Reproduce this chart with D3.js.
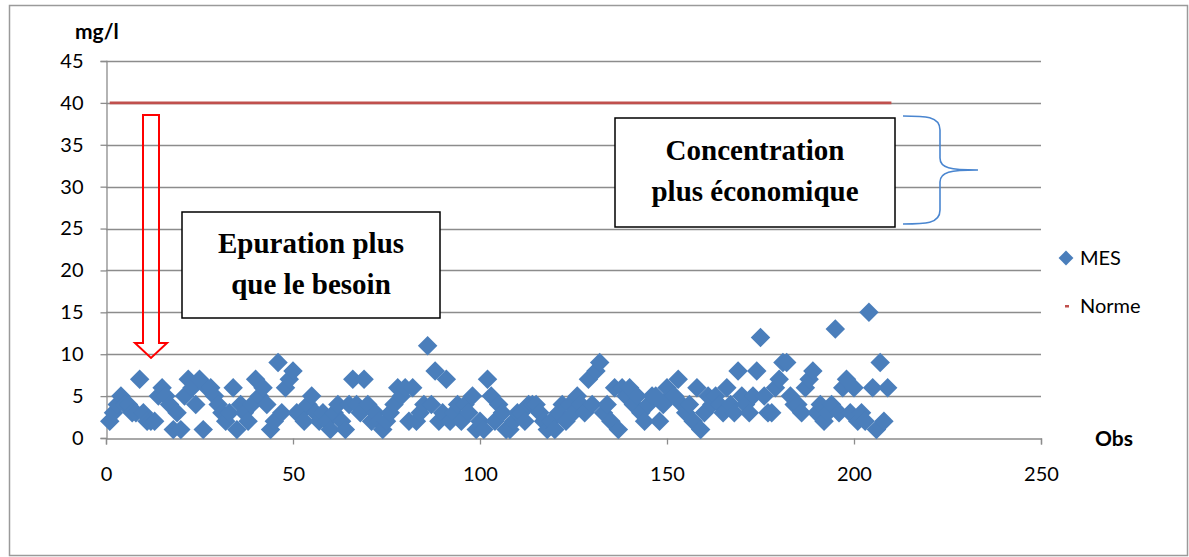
<html>
<head>
<script src="https://d3js.org/d3.v7.min.js"></script>
</head>
<body style="margin:0;background:#fff">
<svg id="chart" width="1189" height="557"></svg>
<style>
  text { font-family: Lato, "Open Sans", sans-serif; }
</style>
<script>
const mes = [
  2,3,4,5,4,4,3,3,7,3, 2,2,2,5,6,5,4,1,3,1,
  5,7,6,4,7,1,6,6,5,4, 3,2,3,6,1,4,3,2,4,7,
  5,6,4,1,2,9,3,6,7,8, 3,3,2,4,5,3,2,3,2,1,
  3,4,2,1,4,7,4,3,7,4, 2,3,2,1,2,3,4,6,5,6,
  2,6,2,3,4,11,4,8,2,3, 7,2,3,4,2,4,3,5,1,2,
  1,7,5,2,4,3,1,1,2,3, 3,2,4,4,4,3,2,1,2,1,
  3,4,2,4,3,5,4,3,7,4, 8,9,3,4,2,6,1,6,5,6,
  4,5,3,2,4,5,5,2,4,6, 5,5,7,4,3,4,2,6,1,3,
  5,4,5,4,3,6,4,3,8,5, 4,3,5,8,12,5,3,3,6,7,
  9,9,5,4,4,3,6,7,8,3, 4,2,3,4,13,3,6,7,3,6,
  2,3,2,15,6,1,9,2,6
];
const normeValue = 40;
const normeRange = [1, 210];
const xTicks = [0, 50, 100, 150, 200, 250];
const yTicks = [0, 5, 10, 15, 20, 25, 30, 35, 40, 45];
const seriesNames = ['MES', 'Norme'];

const svg = d3.select('#chart');

// outer chart frame
svg.append('rect')
   .attr('x', 9.5).attr('y', 5.5)
   .attr('width', 1178).attr('height', 550)
   .attr('fill', 'none').attr('stroke', '#9a9a9a').attr('stroke-width', 1.5);

const x = d3.scaleLinear().domain([0, 250]).range([106, 1041]);
const y = d3.scaleLinear().domain([0, 45]).range([438, 61]);

// gridlines
svg.append('g').selectAll('line')
   .data(yTicks.filter(d => d > 0))
   .join('line')
   .attr('x1', x(0)).attr('x2', x(250))
   .attr('y1', d => Math.round(y(d)) + 0.5).attr('y2', d => Math.round(y(d)) + 0.5)
   .attr('stroke', '#8c8c8c').attr('stroke-width', 1.3);

// y axis
const yAxis = svg.append('g')
   .attr('transform', `translate(${x(0) + 0.5},0)`)
   .call(d3.axisLeft(y).tickValues(yTicks).tickSize(6).tickPadding(17));
yAxis.selectAll('text').attr('font-size', 20).attr('fill', '#000');

// x axis
const xAxis = svg.append('g')
   .attr('transform', `translate(0,${Math.round(y(0)) + 0.5})`)
   .call(d3.axisBottom(x).tickValues(xTicks).tickSize(6).tickPadding(22));
xAxis.selectAll('text').attr('font-size', 20).attr('fill', '#000');

[yAxis, xAxis].forEach(a => {
  a.selectAll('path.domain').attr('stroke', '#8c8c8c').attr('stroke-width', 1.3);
  a.selectAll('line').attr('stroke', '#8c8c8c').attr('stroke-width', 1.3);
});

// Norme line
svg.append('line')
   .attr('x1', x(normeRange[0])).attr('x2', x(normeRange[1]))
   .attr('y1', y(normeValue)).attr('y2', y(normeValue))
   .attr('stroke', '#c0504d').attr('stroke-width', 2.6);

// MES diamonds
const diamond = d3.symbol().type(d3.symbolSquare).size(190);
svg.append('g').selectAll('path')
   .data(mes)
   .join('path')
   .attr('d', diamond)
   .attr('transform', (d, i) => `translate(${x(i + 1)},${y(d)}) rotate(45)`)
   .attr('fill', '#4a7ebb');

// axis titles
svg.append('text').text('mg/l')
   .attr('x', 75).attr('y', 39)
   .attr('font-size', 21).attr('font-weight', 'bold');
svg.append('text').text('Obs')
   .attr('x', 1095).attr('y', 446)
   .attr('font-size', 21).attr('font-weight', 'bold');

// legend
const legend = svg.append('g');
legend.append('path')
   .attr('d', d3.symbol().type(d3.symbolSquare).size(110))
   .attr('transform', 'translate(1066,258) rotate(45)')
   .attr('fill', '#4a7ebb');
legend.append('rect')
   .attr('x', 1065).attr('y', 305).attr('width', 4).attr('height', 2.5)
   .attr('fill', '#c0504d');
legend.selectAll('text')
   .data(seriesNames)
   .join('text')
   .text(d => d)
   .attr('x', 1080)
   .attr('y', (d, i) => 265 + i * 48)
   .attr('font-size', 20);

// red hollow arrow
const arrow = [[143, 115], [159, 115], [159, 343], [167, 343], [151, 358], [135, 343], [143, 343]];
svg.append('path')
   .attr('d', d3.line()(arrow) + 'Z')
   .attr('fill', 'none').attr('stroke', '#ff0000').attr('stroke-width', 2);

// annotation boxes
const boxes = [
  {x: 182, y: 212, w: 258, h: 106, lines: ['Epuration plus', 'que le besoin'], base: 253},
  {x: 615, y: 118, w: 280, h: 109, lines: ['Concentration', 'plus économique'], base: 160}
];
boxes.forEach(b => {
  const g = svg.append('g');
  g.append('rect')
   .attr('x', b.x).attr('y', b.y).attr('width', b.w).attr('height', b.h)
   .attr('fill', '#fff').attr('stroke', '#000').attr('stroke-width', 1.5);
  g.selectAll('text')
   .data(b.lines)
   .join('text')
   .text(d => d)
   .attr('x', b.x + b.w / 2)
   .attr('y', (d, i) => b.base + i * 41)
   .attr('text-anchor', 'middle')
   .style('font-family', '"Liberation Serif", "Times New Roman", serif')
   .attr('font-weight', 'bold')
   .attr('font-size', 29);
});

// brace
svg.append('path')
   .attr('d', 'M903,116 C925,116 940,116 940,130 L940,158 C940,168 950,170 978,170 C950,170 940,172 940,182 L940,210 C940,224 925,224 903,224')
   .attr('fill', 'none').attr('stroke', '#4a86d0').attr('stroke-width', 1.6);
</script>
</body>
</html>
